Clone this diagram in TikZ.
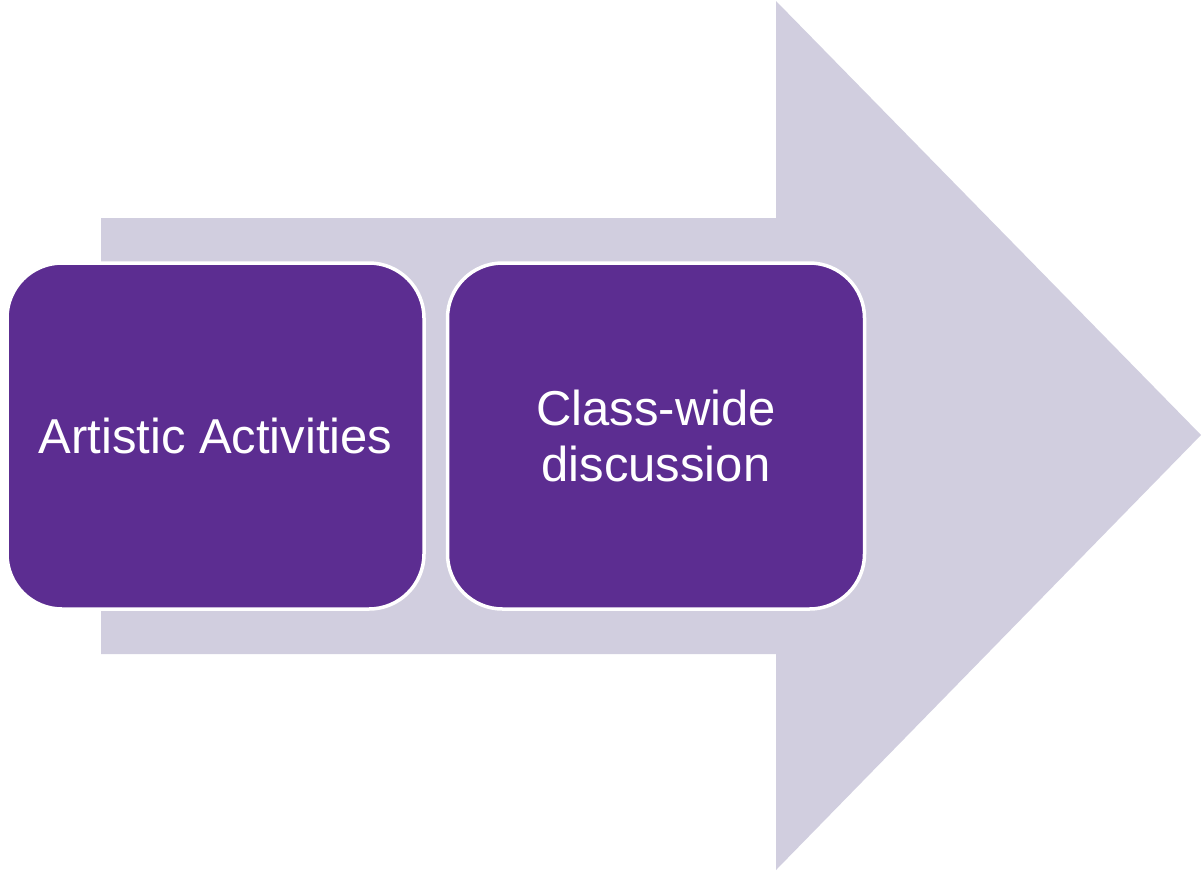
\documentclass[tikz,border=0pt]{standalone}
\usepackage{fontspec}
\setmainfont{Liberation Sans}
\definecolor{lav}{HTML}{D1CEDF}
\definecolor{purp}{HTML}{5C2D91}
\begin{document}
\begin{tikzpicture}[x=1pt,y=-1pt,
  stagebox/.style={rectangle, rounded corners=55pt, draw=white, line width=3.5pt,
    fill=purp, text=white, minimum width=417pt, minimum height=346pt,
    inner sep=0pt, align=center, font=\fontsize{49}{56}\selectfont}]
\useasboundingbox (0,0) rectangle (1201,871);
\fill[lav] (101,218) -- (776,218) -- (776,1) -- (1201,435) -- (776,870) -- (776,654) -- (101,654) -- cycle;
\node[stagebox] (art) at (215.5,436) {Artistic Activities};
\node[stagebox] (disc) at (656,436) {Class-wide\\discussion};
\end{tikzpicture}
\end{document}
